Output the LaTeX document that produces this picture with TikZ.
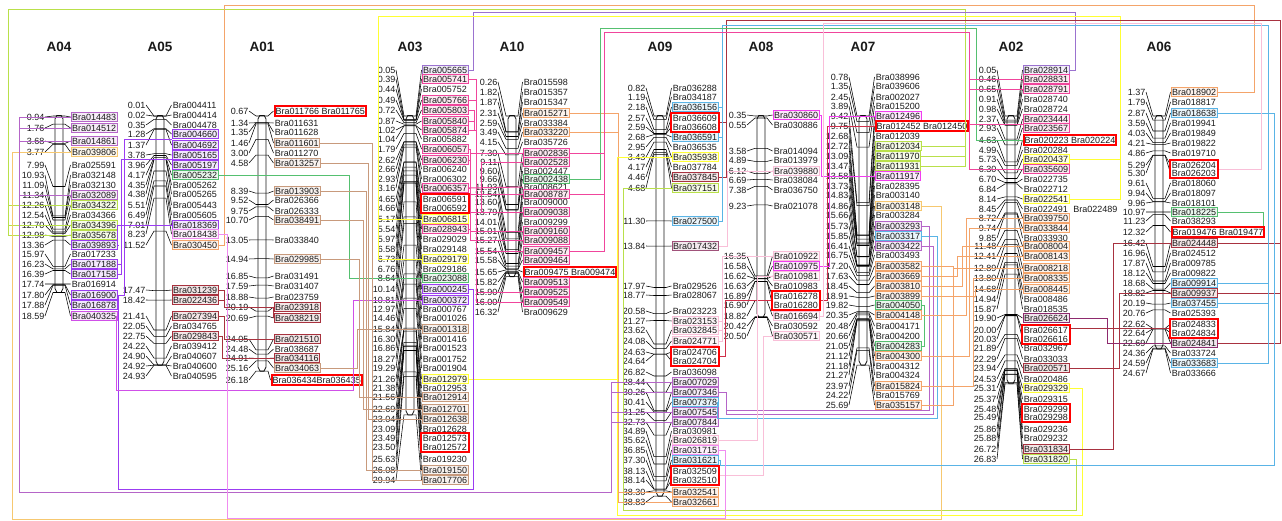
\documentclass[tikz,border=0pt]{standalone}
\usepackage{fontspec}
\setmainfont{Liberation Sans}
\usetikzlibrary{fit,calc}
\definecolor{lime1}{HTML}{B9E04A}
\definecolor{orange1}{HTML}{F4A46A}
\definecolor{gold1}{HTML}{F6C870}
\definecolor{soft1}{HTML}{9B72CF}
\definecolor{yel1}{HTML}{FFFF33}
\definecolor{mar1}{HTML}{A83240}
\definecolor{blue1}{HTML}{5AB4E6}
\definecolor{orch1}{HTML}{B565C8}
\definecolor{vio1}{HTML}{9B3CF2}
\definecolor{gr1}{HTML}{55C070}
\definecolor{hp1}{HTML}{F0459C}
\definecolor{mg1}{HTML}{F23CF0}
\definecolor{pp1}{HTML}{F9BFD8}
\definecolor{pm1}{HTML}{F08CF0}
\definecolor{pv1}{HTML}{D050E8}
\definecolor{tan1}{HTML}{C89A7C}
\definecolor{dr1}{HTML}{A8323E}
\definecolor{plum1}{HTML}{8E2A6E}
\definecolor{red2}{HTML}{D0304A}
\definecolor{mauve1}{HTML}{A0527A}
\definecolor{ink}{HTML}{1A1A1A}
\tikzset{
  gene/.style={font=\fontsize{9}{9}\selectfont,text=ink,inner xsep=1.2,inner ysep=1.6,text height=6.5,text depth=0},
  num/.style={font=\fontsize{9}{9}\selectfont,text=ink,inner sep=0.5,anchor=east},
  title/.style={font=\bfseries\fontsize{13.5}{14}\selectfont,text=ink},
  tx/.style={},
  bx/.style={draw=#1,line width=1,fill=#1,fill opacity=0.12,text opacity=1},
  bxr/.style={draw=red,line width=2},
  grp/.style={draw=red,line width=2,inner sep=0.4,rectangle},
  cn/.style={draw=#1,line width=1},
  leader/.style={draw=black,line width=0.55},
  rodline/.style={draw=ink,line width=0.8}
}
% chromosome: title, centre x, first pos, last pos, number right edge, gene left edge
\newcommand\Chrom[6]{%
  \def\Cx{#2}\def\Nx{#5}\def\Gx{#6}%
  \pgfmathsetmacro\Ct{116-10*(#3)}%
  \pgfmathsetmacro\Cb{\Ct+10*(#4)}%
  \node[title] (t#1) at (#2,47) {#1};%
  \draw[rodline] (#2-4,119) -- (#2-2.2,115.5) -- (#2+2.2,115.5) -- (#2+4,119)
     -- (#2+4,\Cb-4) -- (#2+2,\Cb) -- (#2-2,\Cb) -- (#2-4,\Cb-4) -- cycle;}
\newcommand\geneText[5]{%
  \pgfmathsetmacro\Ty{\Ct+10*(#1)}%
  \node[num] (n#3) at (\Nx,#2) {#1};%
  \node[gene,#5,anchor=west] (#3) at (\Gx-1.5,#2) {#4};%
  \draw[leader] (n#3.east) -- (\Cx-6,\Ty) -- (\Cx+6,\Ty) -- (#3.west);}
\newcommand\geneRow[4]{\geneText{#1}{#2}{#3}{#3}{#4}}
\newcommand\Rg[2]{\node[grp,fit=(#1)(#2)] (r#1) {};}
\newcommand\lnk[4]{\draw[#1] (#2) -- (#2 -| #3,0) -- (#4 -| #3,0) -- (#4);}
\newcommand\lnkk[6]{\draw[#1] (#2) -- (#2 -| #3,0) -- (#3,#4) -- (#5,#4) -- (#6 -| #5,0) -- (#6);}
\begin{document}
\begin{tikzpicture}[x=1pt,y=-1pt]
\path[fill=white,use as bounding box] (0,0) rectangle (1282,520);
% ---------- A04
\Chrom{A04}{59}{0.94}{18.59}{45}{72}
\geneRow{0.94}{117}{Bra014483}{bx=orch1}
\geneRow{1.76}{128}{Bra014512}{bx=orch1}
\geneRow{3.68}{141}{Bra014861}{bx=orch1}
\geneRow{3.77}{152}{Bra039806}{bx=gold1}
\geneRow{7.99}{165}{Bra025591}{tx}
\geneRow{10.93}{175}{Bra032148}{tx}
\geneRow{11.09}{185}{Bra032130}{tx}
\geneRow{11.34}{195}{Bra032089}{bx=orch1}
\geneRow{12.26}{205}{Bra034322}{bx=lime1}
\geneRow{12.54}{215}{Bra034366}{tx}
\geneRow{12.70}{225}{Bra034396}{bx=lime1}
\geneRow{12.98}{235}{Bra035678}{bx=lime1}
\geneRow{13.36}{245}{Bra039893}{bx=vio1}
\geneRow{15.97}{254}{Bra017233}{tx}
\geneRow{16.23}{264}{Bra017188}{bx=vio1}
\geneRow{16.39}{274}{Bra017158}{bx=vio1}
\geneRow{17.74}{284}{Bra016914}{tx}
\geneRow{17.80}{295}{Bra016900}{bx=vio1}
\geneRow{17.88}{305}{Bra016878}{bx=vio1}
\geneRow{18.59}{316}{Bra040325}{bx=pv1}
% ---------- A05
\Chrom{A05}{160}{0.01}{24.93}{146}{173}
\geneRow{0.01}{105}{Bra004411}{tx}
\geneRow{0.02}{115}{Bra004414}{tx}
\geneRow{0.35}{125}{Bra004478}{tx}
\geneRow{1.28}{134}{Bra004660}{bx=vio1}
\geneRow{1.37}{145}{Bra004692}{bx=vio1}
\geneRow{3.78}{155}{Bra005165}{bx=vio1}
\geneRow{3.96}{165}{Bra005197}{bx=vio1}
\geneRow{4.17}{175}{Bra005232}{bx=gr1}
\geneRow{4.35}{185}{Bra005262}{tx}
\geneRow{4.38}{194}{Bra005265}{tx}
\geneRow{5.51}{205}{Bra005443}{tx}
\geneRow{6.49}{215}{Bra005605}{tx}
\geneRow{7.01}{225}{Bra018369}{bx=vio1}
\geneRow{8.23}{234}{Bra018438}{bx=pm1}
\geneRow{11.52}{245}{Bra030450}{bx=orange1}
\geneRow{17.47}{290}{Bra031239}{bx=dr1}
\geneRow{18.42}{300}{Bra022436}{bx=dr1}
\geneRow{21.41}{316}{Bra027394}{bx=dr1}
\geneRow{22.05}{326}{Bra034765}{tx}
\geneRow{22.75}{336}{Bra029843}{bx=dr1}
\geneRow{24.22}{346}{Bra039412}{tx}
\geneRow{24.90}{356}{Bra040607}{tx}
\geneRow{24.92}{366}{Bra040600}{tx}
\geneRow{24.93}{376}{Bra040595}{tx}
% ---------- A01
\Chrom{A01}{262}{0.67}{26.18}{249}{275}
\geneText{0.67}{111}{Bra011766}{Bra011766 Bra011765}{bxr}
\geneRow{1.34}{123}{Bra011631}{tx}
\geneRow{1.35}{132}{Bra011628}{tx}
\geneRow{1.46}{143}{Bra011601}{bx=tan1}
\geneRow{3.00}{153}{Bra011270}{tx}
\geneRow{4.58}{163}{Bra013257}{bx=tan1}
\geneRow{8.39}{191}{Bra013903}{bx=tan1}
\geneRow{9.52}{200}{Bra026366}{tx}
\geneRow{9.75}{211}{Bra026333}{tx}
\geneRow{10.70}{220}{Bra038491}{bx=tan1}
\geneRow{13.05}{240}{Bra033840}{tx}
\geneRow{14.94}{259}{Bra029985}{bx=tan1}
\geneRow{16.85}{276}{Bra031491}{tx}
\geneRow{17.59}{286}{Bra031407}{tx}
\geneRow{18.88}{297}{Bra023759}{tx}
\geneRow{20.19}{307}{Bra023918}{bx=dr1}
\geneRow{20.69}{318}{Bra038219}{bx=dr1}
\geneRow{24.05}{339}{Bra021510}{bx=dr1}
\geneRow{24.48}{349}{Bra038687}{tx}
\geneRow{24.91}{358}{Bra034116}{bx=dr1}
\geneRow{25.16}{368}{Bra034063}{bx=tan1}
\def\Gx{272}
\geneText{26.18}{380}{Bra036434}{Bra036434Bra036435}{bxr}
% ---------- A03
\Chrom{A03}{410}{0.05}{29.94}{396}{423}
\geneRow{0.05}{70}{Bra005665}{bx=soft1}
\geneRow{0.39}{79}{Bra005741}{bx=hp1}
\geneRow{0.44}{89}{Bra005752}{tx}
\geneRow{0.49}{100}{Bra005766}{bx=hp1}
\geneRow{0.72}{110}{Bra005803}{bx=hp1}
\geneRow{0.87}{121}{Bra005840}{bx=hp1}
\geneRow{1.02}{130}{Bra005874}{bx=hp1}
\geneRow{1.04}{139}{Bra005882}{tx}
\geneRow{1.79}{149}{Bra006057}{bx=hp1}
\geneRow{2.62}{160}{Bra006230}{bx=hp1}
\geneRow{2.66}{169}{Bra006240}{tx}
\geneRow{2.93}{179}{Bra006302}{tx}
\geneRow{3.16}{188}{Bra006357}{bx=hp1}
\geneRow{4.65}{199}{Bra006591}{tx}
\geneRow{4.66}{208}{Bra006592}{tx}
\geneRow{5.17}{219}{Bra006815}{bx=yel1}
\geneRow{5.54}{229}{Bra028943}{bx=hp1}
\geneRow{5.97}{239}{Bra029029}{tx}
\geneRow{6.58}{249}{Bra029148}{tx}
\geneRow{6.73}{259}{Bra029179}{bx=yel1}
\geneRow{6.76}{269}{Bra029186}{tx}
\geneRow{8.64}{278}{Bra023088}{bx=gr1}
\geneRow{10.14}{289}{Bra000245}{bx=vio1}
\geneRow{10.81}{300}{Bra000372}{bx=vio1}
\geneRow{12.97}{309}{Bra000767}{tx}
\geneRow{14.46}{318}{Bra001026}{tx}
\geneRow{15.84}{329}{Bra001318}{bx=tan1}
\geneRow{16.30}{339}{Bra001416}{tx}
\geneRow{16.86}{348}{Bra001523}{tx}
\geneRow{18.27}{359}{Bra001752}{tx}
\geneRow{19.29}{368}{Bra001904}{tx}
\geneRow{21.26}{379}{Bra012979}{bx=yel1}
\geneRow{21.38}{388}{Bra012953}{tx}
\geneRow{21.56}{397}{Bra012914}{bx=tan1}
\geneRow{22.69}{409}{Bra012701}{bx=tan1}
\geneRow{23.04}{419}{Bra012638}{bx=tan1}
\geneRow{23.09}{429}{Bra012628}{tx}
\geneRow{23.49}{438}{Bra012573}{tx}
\geneRow{23.50}{447}{Bra012572}{tx}
\geneRow{25.63}{459}{Bra019230}{tx}
\geneRow{26.08}{470}{Bra019150}{bx=tan1}
\geneRow{29.94}{480}{Bra017706}{bx=tan1}
\Rg{Bra006591}{Bra006592}
\Rg{Bra012573}{Bra012572}
% ---------- A10
\Chrom{A10}{512}{0.26}{16.32}{498}{524}
\geneRow{0.26}{82}{Bra015598}{tx}
\geneRow{1.82}{92}{Bra015357}{tx}
\geneRow{1.87}{102}{Bra015347}{tx}
\geneRow{2.31}{113}{Bra015271}{bx=orange1}
\geneRow{2.59}{123}{Bra033384}{tx}
\geneRow{3.49}{132}{Bra033220}{bx=orange1}
\geneRow{4.15}{142}{Bra035726}{tx}
\geneRow{7.30}{153}{Bra002836}{bx=hp1}
\geneRow{9.11}{162}{Bra002528}{bx=hp1}
\geneRow{9.60}{171}{Bra002447}{tx}
\geneRow{9.66}{179}{Bra002438}{bx=gr1}
\geneRow{11.93}{187}{Bra008621}{tx}
\geneRow{12.54}{194}{Bra008787}{bx=hp1}
\geneRow{13.60}{202}{Bra009000}{tx}
\geneRow{13.79}{212}{Bra009038}{bx=hp1}
\geneRow{14.01}{222}{Bra009299}{tx}
\geneRow{15.01}{231}{Bra009160}{bx=hp1}
\geneRow{15.27}{240}{Bra009088}{bx=hp1}
\geneRow{15.54}{251}{Bra009457}{bx=hp1}
\geneRow{15.58}{260}{Bra009464}{bx=hp1}
\geneText{15.65}{272}{Bra009475}{Bra009475 Bra009474}{bxr}
\geneRow{15.82}{282}{Bra009513}{bx=hp1}
\geneRow{15.90}{292}{Bra009525}{bx=hp1}
\geneRow{16.00}{302}{Bra009549}{bx=hp1}
\geneRow{16.32}{312}{Bra009629}{tx}
% ---------- A09
\Chrom{A09}{660}{0.82}{38.83}{646}{673}
\geneRow{0.82}{88}{Bra036288}{tx}
\geneRow{1.19}{97}{Bra034187}{tx}
\geneRow{2.18}{107}{Bra036156}{bx=blue1}
\geneRow{2.57}{118}{Bra036609}{tx}
\geneRow{2.59}{127}{Bra036608}{tx}
\geneRow{2.68}{137}{Bra036591}{bx=blue1}
\geneRow{2.95}{147}{Bra036535}{tx}
\geneRow{3.43}{157}{Bra035938}{bx=yel1}
\geneRow{4.17}{167}{Bra037784}{tx}
\geneRow{4.46}{177}{Bra037845}{bx=mar1}
\geneRow{4.68}{188}{Bra037151}{bx=lime1}
\geneRow{11.30}{221}{Bra027500}{bx=blue1}
\geneRow{13.84}{246}{Bra017432}{bx=mauve1}
\geneRow{17.97}{286}{Bra029526}{tx}
\geneRow{18.77}{295}{Bra028067}{tx}
\geneRow{20.58}{311}{Bra023223}{tx}
\geneRow{21.27}{321}{Bra023153}{bx=pp1}
\geneRow{23.62}{330}{Bra032845}{bx=pp1}
\geneRow{24.08}{341}{Bra024771}{bx=pp1}
\geneRow{24.63}{352}{Bra024706}{tx}
\geneRow{24.64}{361}{Bra024704}{tx}
\geneRow{26.82}{372}{Bra036098}{tx}
\geneRow{28.44}{382}{Bra007029}{bx=orch1}
\geneRow{30.26}{392}{Bra007346}{bx=orch1}
\geneRow{30.41}{402}{Bra007378}{bx=blue1}
\geneRow{31.25}{412}{Bra007545}{bx=orch1}
\geneRow{32.73}{422}{Bra007844}{bx=orch1}
\geneRow{34.89}{431}{Bra030981}{tx}
\geneRow{35.62}{440}{Bra026819}{bx=pp1}
\geneRow{36.85}{450}{Bra031715}{bx=pm1}
\geneRow{37.30}{460}{Bra031621}{bx=blue1}
\geneRow{38.13}{471}{Bra032509}{tx}
\geneRow{38.14}{480}{Bra032510}{tx}
\geneRow{38.30}{492}{Bra032541}{bx=orange1}
\geneRow{38.83}{502}{Bra032661}{bx=orange1}
\Rg{Bra036609}{Bra036608}
\Rg{Bra024706}{Bra024704}
\Rg{Bra032509}{Bra032510}
% ---------- A08
\Chrom{A08}{761}{0.35}{20.50}{747}{774}
\geneRow{0.35}{115}{Bra030860}{bx=mg1}
\geneRow{0.55}{125}{Bra030886}{tx}
\geneRow{3.58}{151}{Bra014094}{tx}
\geneRow{4.89}{160}{Bra013979}{tx}
\geneRow{6.12}{171}{Bra039880}{bx=pp1}
\geneRow{6.69}{180}{Bra038084}{tx}
\geneRow{7.38}{190}{Bra036750}{tx}
\geneRow{9.23}{206}{Bra021078}{tx}
\geneRow{16.35}{256}{Bra010922}{bx=pp1}
\geneRow{16.58}{266}{Bra010975}{bx=mg1}
\geneRow{16.62}{276}{Bra010981}{bx=pp1}
\geneRow{16.63}{286}{Bra010983}{tx}
\geneRow{16.89}{296}{Bra016278}{tx}
\geneRow{16.90}{305}{Bra016280}{tx}
\geneRow{18.82}{316}{Bra016694}{bx=pp1}
\geneRow{20.42}{326}{Bra030592}{tx}
\geneRow{20.50}{336}{Bra030571}{bx=pp1}
\Rg{Bra016278}{Bra016280}
% ---------- A07
\Chrom{A07}{863}{0.78}{25.69}{849}{876}
\geneRow{0.78}{77}{Bra038996}{tx}
\geneRow{1.35}{86}{Bra039606}{tx}
\geneRow{2.45}{97}{Bra002027}{tx}
\geneRow{3.89}{106}{Bra015200}{tx}
\geneRow{9.42}{116}{Bra012496}{bx=mg1}
\geneText{9.75}{126}{Bra012452}{Bra012452 Bra012450}{bxr}
\geneRow{12.68}{136}{Bra012039}{tx}
\geneRow{12.72}{146}{Bra012034}{bx=lime1}
\geneRow{13.09}{156}{Bra011970}{bx=lime1}
\geneRow{13.47}{166}{Bra011931}{bx=lime1}
\geneRow{13.58}{176}{Bra011917}{bx=mg1}
\geneRow{13.73}{186}{Bra028395}{tx}
\geneRow{14.83}{195}{Bra003140}{tx}
\geneRow{14.86}{206}{Bra003148}{bx=gold1}
\geneRow{15.66}{215}{Bra003284}{tx}
\geneRow{15.73}{226}{Bra003293}{bx=orch1}
\geneRow{15.85}{236}{Bra003317}{bx=blue1}
\geneRow{16.41}{246}{Bra003422}{bx=orch1}
\geneRow{16.75}{255}{Bra003493}{tx}
\geneRow{17.20}{266}{Bra003582}{bx=orange1}
\geneRow{17.63}{276}{Bra003669}{bx=orange1}
\geneRow{18.45}{286}{Bra003810}{bx=orange1}
\geneRow{18.91}{296}{Bra003899}{bx=orange1}
\geneRow{19.82}{305}{Bra004050}{bx=gr1}
\geneRow{20.35}{315}{Bra004148}{bx=orange1}
\geneRow{20.48}{326}{Bra004171}{tx}
\geneRow{20.66}{336}{Bra004200}{tx}
\geneRow{21.05}{346}{Bra004283}{bx=gr1}
\geneRow{21.12}{356}{Bra004300}{bx=orange1}
\geneRow{21.18}{366}{Bra004312}{tx}
\geneRow{21.27}{375}{Bra004324}{tx}
\geneRow{23.97}{386}{Bra015824}{bx=orange1}
\geneRow{24.22}{395}{Bra015769}{tx}
\geneRow{25.69}{405}{Bra035157}{bx=orange1}
% ---------- A02
\Chrom{A02}{1011}{0.05}{26.83}{997}{1024}
\geneRow{0.05}{70}{Bra028914}{bx=soft1}
\geneRow{0.46}{79}{Bra028831}{bx=hp1}
\geneRow{0.65}{89}{Bra028791}{bx=hp1}
\geneRow{0.91}{99}{Bra028740}{tx}
\geneRow{0.98}{109}{Bra028724}{tx}
\geneRow{2.37}{119}{Bra023444}{bx=hp1}
\geneRow{2.93}{128}{Bra023567}{bx=hp1}
\geneText{4.63}{140}{Bra020223}{Bra020223 Bra020224}{bxr}
\geneRow{4.99}{150}{Bra020284}{tx}
\geneRow{5.73}{159}{Bra020437}{bx=yel1}
\geneRow{6.30}{169}{Bra035609}{bx=hp1}
\geneRow{6.70}{179}{Bra022735}{tx}
\geneRow{6.84}{189}{Bra022712}{tx}
\geneRow{8.14}{199}{Bra022541}{bx=yel1}
\geneText{8.45}{209}{Bra022491}{Bra022491\hspace{3pt} Bra022489}{tx}
\geneRow{8.72}{218}{Bra039750}{bx=orange1}
\geneRow{9.74}{228}{Bra033844}{bx=orange1}
\geneRow{9.85}{238}{Bra033930}{tx}
\geneRow{11.48}{246}{Bra008004}{bx=orange1}
\geneRow{12.41}{256}{Bra008143}{bx=orange1}
\geneRow{12.89}{268}{Bra008218}{bx=orange1}
\geneRow{13.80}{278}{Bra008335}{bx=orange1}
\geneRow{14.68}{289}{Bra008445}{bx=orange1}
\geneRow{14.94}{299}{Bra008486}{tx}
\geneRow{15.87}{309}{Bra018535}{tx}
\geneRow{19.90}{318}{Bra026624}{bx=plum1}
\geneRow{20.00}{330}{Bra026617}{tx}
\geneRow{20.03}{339}{Bra026616}{tx}
\geneRow{21.89}{348}{Bra032967}{tx}
\geneRow{22.29}{359}{Bra033033}{tx}
\geneRow{23.94}{368}{Bra020571}{bx=mar1}
\geneRow{24.53}{379}{Bra020486}{tx}
\geneRow{25.31}{388}{Bra029329}{bx=yel1}
\geneRow{25.37}{399}{Bra029315}{tx}
\geneRow{25.48}{409}{Bra029299}{tx}
\geneRow{25.49}{417}{Bra029298}{tx}
\geneRow{25.86}{429}{Bra029236}{tx}
\geneRow{25.88}{438}{Bra029232}{tx}
\geneRow{26.72}{449}{Bra031834}{bx=mar1}
\geneRow{26.83}{459}{Bra031820}{bx=lime1}
\Rg{Bra026617}{Bra026616}
\Rg{Bra029299}{Bra029298}
% ---------- A06
\Chrom{A06}{1159}{1.37}{24.67}{1146}{1172}
\geneRow{1.37}{92}{Bra018902}{bx=orange1}
\geneRow{1.79}{102}{Bra018817}{tx}
\geneRow{2.87}{113}{Bra018638}{bx=blue1}
\geneRow{3.59}{123}{Bra019941}{tx}
\geneRow{4.03}{133}{Bra019849}{tx}
\geneRow{4.21}{143}{Bra019822}{tx}
\geneRow{4.86}{153}{Bra019710}{tx}
\geneRow{5.29}{165}{Bra026204}{tx}
\geneRow{5.30}{173}{Bra026203}{tx}
\geneRow{9.61}{183}{Bra018060}{tx}
\geneRow{9.94}{193}{Bra018097}{tx}
\geneRow{9.96}{203}{Bra018101}{tx}
\geneRow{10.97}{212}{Bra018225}{bx=gr1}
\geneRow{11.23}{221}{Bra038293}{tx}
\geneText{12.32}{232}{Bra019476}{Bra019476 Bra019477}{bxr}
\geneRow{16.42}{243}{Bra024448}{bx=mar1}
\geneRow{16.96}{253}{Bra024512}{tx}
\geneRow{17.87}{263}{Bra009785}{tx}
\geneRow{18.12}{273}{Bra009822}{tx}
\geneRow{18.68}{283}{Bra009914}{bx=blue1}
\geneRow{18.82}{293}{Bra009937}{bx=mar1}
\geneRow{20.19}{303}{Bra037455}{bx=blue1}
\geneRow{20.76}{313}{Bra025393}{tx}
\geneRow{22.62}{324}{Bra024833}{tx}
\geneRow{22.64}{333}{Bra024834}{tx}
\geneRow{22.69}{343}{Bra024841}{bx=plum1}
\geneRow{24.36}{353}{Bra033724}{tx}
\geneRow{24.59}{363}{Bra033683}{bx=blue1}
\geneRow{24.67}{373}{Bra033666}{tx}
\Rg{Bra026204}{Bra026203}
\Rg{Bra024833}{Bra024834}
% ========== connectors
% lime
\lnkk{cn=lime1}{Bra034322.west}{8}{9}{965}{Bra012034.east}
\lnk{cn=lime1}{Bra034396.west}{8}{Bra034322.west}
\lnk{cn=lime1}{Bra035678.west}{8}{Bra034322.west}
\lnk{cn=lime1}{Bra011970.east}{965}{Bra012034.east}
\lnk{cn=lime1}{Bra011931.east}{965}{Bra012034.east}
\lnkk{cn=lime1}{Bra037151.west}{623}{510}{1076}{Bra031820.east}
% orange long
\lnkk{cn=orange1}{Bra030450.east}{224}{5}{1254}{Bra018902.east}
\lnk{cn=orange1}{Bra015271.east}{618}{Bra033220.east}
\lnk{cn=orange1}{Bra032541.west}{618}{Bra032661.west}
\lnk{cn=orange1}{Bra033220.east}{618}{Bra032541.west}
% gold
\lnkk{cn=gold1}{Bra039806.west}{12}{519}{941}{Bra003148.east}
% soft purple
\lnkk{cn=soft1}{Bra005665.east}{473}{12.5}{1075}{Bra028914.east}
% yellow
\lnkk{cn=yel1}{Bra006815.west}{378}{16}{1120}{Bra020437.east}
\lnk{cn=yel1}{Bra029179.west}{378}{Bra006815.west}
\lnk{cn=yel1}{Bra022541.east}{1120}{Bra020437.east}
\lnkk{cn=yel1}{Bra035938.west}{617}{515}{1082}{Bra029329.east}
\lnk{cn=yel1}{Bra012979.east}{617}{Bra035938.west}
% maroon
\lnkk{cn=mar1}{Bra037845.east}{726}{20}{1280}{Bra024841.east}
\lnk{cn=mar1}{rBra036609.east}{726}{Bra037845.east}
\lnk{cn=mar1}{Bra024448.east}{1280}{Bra024841.east}
\lnk{cn=mar1}{Bra009937.east}{1280}{Bra024841.east}
\lnk{cn=mar1}{Bra020571.east}{1119}{Bra009937.west}
\lnk{cn=mar1}{Bra031834.east}{1113}{Bra024448.west}
\draw[cn=mar1] (rBra026617.east |- 0,328) -- (rBra024833.west |- 0,328);
\lnk{cn=plum1}{Bra026624.east}{1107}{Bra024841.west}
% red
\lnk{cn=red2}{Bra012452.west}{827}{rBra016278.east}
\lnk{cn=red2}{rBra016278.west}{725}{rBra024706.east}
% blue
\lnkk{cn=blue1}{Bra027500.east}{722}{25}{1268}{Bra033683.east}
\lnk{cn=blue1}{Bra036156.east}{722}{Bra027500.east}
\lnk{cn=blue1}{Bra036591.east}{722}{Bra027500.east}
\lnk{cn=blue1}{Bra009914.east}{1268}{Bra033683.east}
\lnk{cn=blue1}{Bra037455.east}{1268}{Bra033683.east}
\lnkk{cn=blue1}{Bra018638.east}{1274}{465}{720}{Bra031621.east}
\lnkk{cn=blue1}{Bra007378.east}{717}{418}{937}{Bra003317.east}
% orchid
\lnkk{cn=orch1}{Bra014483.west}{19}{492}{611}{Bra007029.west}
\lnk{cn=orch1}{Bra014512.west}{19}{Bra014483.west}
\lnk{cn=orch1}{Bra014861.west}{19}{Bra014483.west}
\lnk{cn=orch1}{Bra032089.west}{19}{Bra014483.west}
\lnk{cn=orch1}{Bra007346.west}{611}{Bra007029.west}
\lnk{cn=orch1}{Bra007545.west}{611}{Bra007029.west}
\lnk{cn=orch1}{Bra007844.west}{611}{Bra007029.west}
\lnkk{cn=orch1}{Bra007346.east}{726}{410}{929}{Bra003293.east}
\lnkk{cn=orch1}{Bra007346.east}{726}{414}{933}{Bra003422.east}
% vivid purple
\lnk{cn=vio1}{Bra004692.north west}{124}{Bra016900.east}
\lnk{cn=vio1}{Bra005197.north west}{121}{Bra017188.east}
\lnk{cn=vio1}{Bra017158.east}{121}{Bra017188.east}
\lnk{cn=vio1}{Bra039893.east}{117.5}{Bra018369.west}
\lnkk{cn=vio1}{Bra000245.east}{473}{489}{118}{Bra016878.east}
\lnk{cn=vio1}{Bra016900.east}{118}{Bra016878.east}
\lnkk{cn=pv1}{Bra000372.west}{353}{390}{116}{Bra040325.east}
% green
\lnk{cn=gr1}{Bra005232.east}{349}{Bra023088.west}
\lnkk{cn=gr1}{Bra002438.east}{600}{28.5}{976}{Bra020223.west}
\lnk{cn=gr1}{Bra004050.east}{924}{Bra004283.east}
\draw[cn=gr1] (Bra018225.east) -| ([xshift=-2pt]Bra019476.north east);
% hot pink
\lnkk{cn=hp1}{Bra009457.east}{604}{32.5}{969}{Bra035609.west}
\lnk{cn=hp1}{Bra002836.east}{604}{Bra009457.east}
\lnk{cn=hp1}{Bra008787.east}{604}{Bra009457.east}
\lnk{cn=hp1}{Bra028831.west}{969}{Bra035609.west}
\lnk{cn=hp1}{Bra028791.west}{969}{Bra035609.west}
\lnk{cn=hp1}{Bra023444.south west}{969}{Bra035609.west}
\lnk{cn=hp1}{Bra005741.east}{476}{Bra009549.west}
\lnk{cn=hp1}{Bra005766.east}{476}{Bra005741.east}
\lnk{cn=hp1}{Bra005874.east}{476}{Bra005741.east}
\lnk{cn=hp1}{Bra005803.east}{474}{Bra005874.east}
\lnk{cn=hp1}{Bra005840.east}{474}{Bra005874.east}
\lnk{cn=hp1}{Bra009457.west}{476}{Bra005741.east}
\lnk{cn=hp1}{Bra009525.west}{476}{Bra005741.east}
\lnk{cn=hp1}{Bra006057.east}{470}{Bra028943.east}
\lnk{cn=hp1}{Bra006230.east}{470}{Bra028943.east}
\lnk{cn=hp1}{Bra006357.east}{470}{Bra028943.east}
\lnk{cn=hp1}{rBra006591.east}{470}{Bra028943.east}
\lnk{cn=hp1}{Bra002836.west}{470}{Bra006057.east}
\lnk{cn=hp1}{Bra008787.west}{470}{Bra006357.east}
\lnk{cn=hp1}{Bra009038.west}{470}{Bra028943.east}
\lnk{cn=hp1}{Bra009160.west}{470}{Bra028943.east}
\lnk{cn=hp1}{Bra009088.west}{470}{Bra028943.east}
\draw[cn=hp1] (Bra006357.east) -- (Bra008621.west);
\lnk{cn=hp1}{Bra002528.west}{481}{Bra009038.west}
% magenta
\lnk{cn=mg1}{Bra012496.west}{829}{Bra010975.east}
\lnk{cn=mg1}{Bra030860.east}{821}{Bra011917.west}
% pale pink
\lnkk{cn=pp1}{Bra016694.east}{823}{23}{1261}{rBra026204.east}
\lnk{cn=pp1}{Bra017432.east}{727}{Bra039880.west}
\lnk{cn=pp1}{Bra032845.east}{722}{Bra010922.west}
\lnk{cn=pp1}{Bra024771.east}{722}{Bra010922.west}
\lnk{cn=pp1}{Bra023153.east}{722}{Bra010922.west}
\lnk{cn=pp1}{Bra026819.east}{757}{Bra010981.west}
\lnk{cn=pp1}{rBra032509.east}{763}{Bra030571.west}
% pink-magenta
\lnkk{cn=pm1}{Bra018438.east}{227}{518}{725}{Bra031715.east}
% tan
\lnk{cn=tan1}{Bra011601.east}{372}{Bra017706.west}
\lnk{cn=tan1}{Bra013257.east}{368}{Bra012638.west}
\lnk{cn=tan1}{Bra013903.east}{366}{Bra019150.west}
\lnk{cn=tan1}{Bra038491.east}{363}{Bra012701.west}
\lnk{cn=tan1}{Bra029985.east}{359}{Bra012914.west}
\lnk{cn=tan1}{Bra034063.east}{357}{Bra001318.west}
% dark red
\lnk{cn=dr1}{Bra031239.east}{224}{Bra023918.west}
\lnk{cn=dr1}{Bra022436.east}{224}{Bra023918.west}
\lnk{cn=dr1}{Bra027394.east}{224}{Bra021510.west}
\lnk{cn=dr1}{Bra029843.east}{222}{Bra034116.west}
\draw[cn=dr1] (Bra023918.west) -- (Bra038219.west);
% orange network
\lnk{cn=orange1}{Bra003582.east}{953}{Bra035157.east}
\lnk{cn=orange1}{Bra003582.east}{953}{Bra008218.west}
\lnk{cn=orange1}{Bra003669.east}{957}{Bra008143.west}
\lnk{cn=orange1}{Bra003810.east}{962}{Bra008004.west}
\lnk{cn=orange1}{Bra003899.east}{975}{Bra008445.west}
\lnk{cn=orange1}{Bra004148.east}{966}{Bra039750.west}
\lnk{cn=orange1}{Bra004300.east}{969}{Bra033844.west}
\lnk{cn=orange1}{Bra015824.east}{973}{Bra008335.west}
\end{tikzpicture}
\end{document}
